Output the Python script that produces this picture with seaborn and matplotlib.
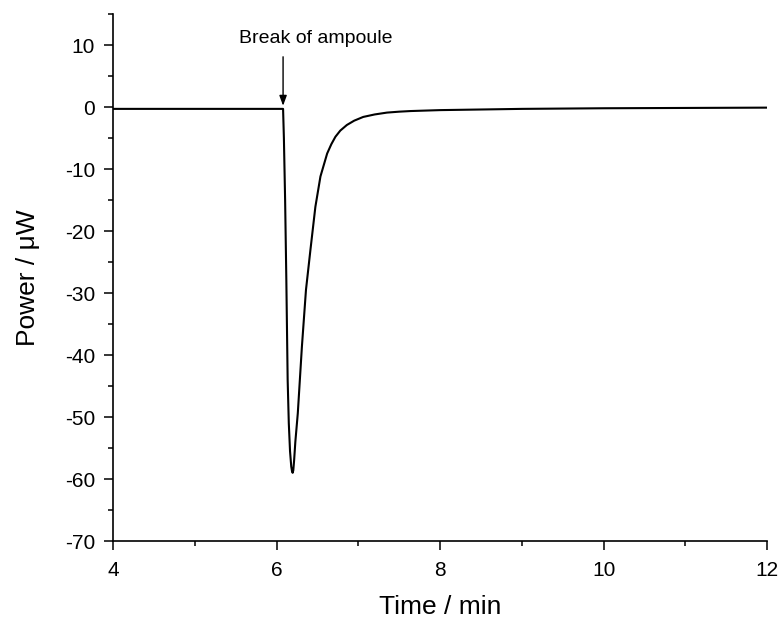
import numpy as np
import pandas as pd
import matplotlib
matplotlib.use("Agg")
import matplotlib.pyplot as plt
from matplotlib.ticker import MultipleLocator
import seaborn as sns

sns.set_style("ticks")
plt.rcParams["font.family"] = ["Liberation Sans", "DejaVu Sans"]
plt.rcParams["axes.unicode_minus"] = False
plt.rcParams["text.color"] = "black"
plt.rcParams["axes.labelcolor"] = "black"
plt.rcParams["xtick.color"] = "black"
plt.rcParams["ytick.color"] = "black"
plt.rcParams["axes.edgecolor"] = "black"

# Calorimetry trace
time_min = [4.0, 5.0, 6.0, 6.08, 6.09, 6.105, 6.12, 6.136, 6.15, 6.165, 6.18,
            6.19, 6.197, 6.205, 6.215, 6.23, 6.26, 6.31, 6.36, 6.414, 6.475,
            6.537, 6.619, 6.67, 6.72, 6.78, 6.86, 6.95, 7.06, 7.2, 7.35, 7.5,
            7.64, 8.0, 8.5, 9.0, 10.0, 11.0, 12.0]
power_uw = [-0.3, -0.3, -0.3, -0.3, -5.0, -15.0, -28.0, -44.0, -51.0, -55.5,
            -58.0, -58.8, -59.0, -58.6, -57.0, -54.0, -49.4, -38.7, -29.5,
            -23.1, -16.1, -11.2, -7.5, -6.0, -4.8, -3.8, -2.9, -2.2, -1.6,
            -1.2, -0.9, -0.75, -0.65, -0.5, -0.4, -0.3, -0.2, -0.15, -0.1]

break_time = 6.08
break_label = "Break of ampoule"

df = pd.DataFrame({"time": time_min, "power": power_uw})

fig = plt.figure(figsize=(7.82, 6.23), dpi=100)
ax = fig.add_axes([0.1445, 0.1316, 0.8365, 0.8459])

sns.lineplot(data=df, x="time", y="power", ax=ax, color="black",
             linewidth=1.5, sort=False, estimator=None)

ax.set_xlim(4, 12)
ax.set_ylim(-70, 15)
ax.xaxis.set_major_locator(MultipleLocator(2))
ax.xaxis.set_minor_locator(MultipleLocator(1))
ax.yaxis.set_minor_locator(MultipleLocator(5))
ax.set_yticks([-70, -60, -50, -40, -30, -20, -10, 0, 10])

sns.despine(ax=ax)
for side in ["left", "bottom"]:
    ax.spines[side].set_linewidth(1.2)
ax.tick_params(which="major", direction="out", length=6.5, width=1.1,
               labelsize=15, colors="black")
ax.tick_params(which="minor", direction="out", length=3.5, width=1.1)
ax.tick_params(axis="x", which="major", pad=8)
ax.tick_params(axis="y", which="major", pad=6.5)

ax.set_xlabel("Time / min", fontsize=19, labelpad=11)
ax.set_ylabel("Power / \u03bcW", fontsize=19, labelpad=18)

ax.annotate("", xy=(break_time, 0.2), xytext=(break_time, 8.1),
            arrowprops=dict(arrowstyle="-|>,head_length=0.6,head_width=0.22",
                            color="black", lw=1.0, shrinkA=0, shrinkB=0))
ax.text(6.48, 11.0, break_label, ha="center", va="center", fontsize=14)

fig.savefig("out.png", dpi=100)
